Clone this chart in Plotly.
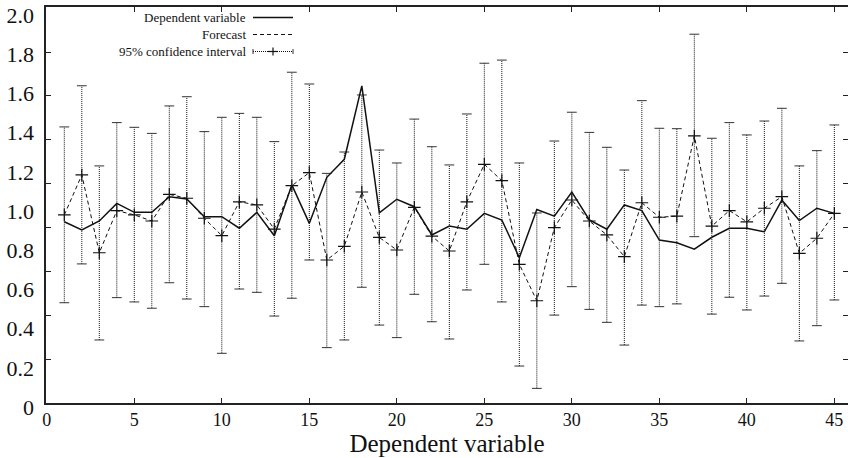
import plotly.graph_objects as go

# ---- data ----
x_idx = list(range(1, 46))

dependent = [0.945, 0.903, 0.949, 1.039, 0.993, 0.993, 1.073, 1.061, 0.971, 0.971,
             0.912, 0.993, 0.874, 1.133, 0.937, 1.172, 1.264, 1.638, 0.991, 1.060,
             1.022, 0.878, 0.923, 0.907, 0.988, 0.954, 0.762, 1.008, 0.974, 1.097,
             0.954, 0.907, 1.031, 1.002, 0.852, 0.838, 0.805, 0.866, 0.912, 0.912,
             0.894, 1.056, 0.951, 1.014, 0.988]

forecast = [0.980, 1.184, 0.787, 1.002, 0.980, 0.949, 1.085, 1.065, 0.963, 0.874,
            1.047, 1.031, 0.908, 1.129, 1.196, 0.750, 0.820, 1.097, 0.865, 0.801,
            1.019, 0.872, 0.796, 1.047, 1.238, 1.155, 0.728, 0.542, 0.915, 1.056,
            0.949, 0.878, 0.767, 1.042, 0.968, 0.974, 1.383, 0.923, 1.002, 0.945,
            1.014, 1.073, 0.784, 0.861, 0.988]

ci_upper = [1.429, 1.639, 1.230, 1.451, 1.427, 1.396, 1.536, 1.583, 1.405, 1.478,
            1.498, 1.478, 1.354, 1.708, 1.648, 1.192, 1.301, 1.592, 1.311, 1.245,
            1.469, 1.328, 1.235, 1.495, 1.754, 1.770, 1.245, 0.990, 1.357, 1.504,
            1.401, 1.325, 1.209, 1.563, 1.422, 1.420, 1.902, 1.371, 1.451, 1.388,
            1.459, 1.524, 1.230, 1.308, 1.439]

ci_lower = [0.532, 0.730, 0.342, 0.558, 0.536, 0.504, 0.634, 0.551, 0.512, 0.274,
            0.602, 0.585, 0.464, 0.555, 0.750, 0.303, 0.342, 0.611, 0.418, 0.354,
            0.575, 0.435, 0.347, 0.597, 0.728, 0.536, 0.209, 0.095, 0.469, 0.614,
            0.498, 0.432, 0.316, 0.520, 0.512, 0.526, 0.869, 0.474, 0.560, 0.495,
            0.566, 0.631, 0.337, 0.415, 0.546]

x_ticks = [0, 5, 10, 15, 20, 25, 30, 35, 40, 45]
y_label_vals = [0, 0.2, 0.4, 0.6, 0.8, 1.0, 1.2, 1.4, 1.6, 1.8, 2.0]
y_label_text = ["0", "0.2", "0.4", "0.6", "0.8", "1.0", "1.2", "1.4", "1.6", "1.8", "2.0"]
y_mark_vals = [0, 1, 2, 3, 4, 5, 6, 7, 8]

legend_labels = ["Dependent variable", "Forecast", "95% confidence interval"]
x_title = "Dependent variable"

FONT = "Liberation Serif, Times New Roman, serif"
AX = "#222222"

# ---- build CI segments ----
ci_x, ci_y = [], []
for xi, lo, hi in zip(x_idx, ci_lower, ci_upper):
    ci_x += [xi, xi, None]
    ci_y += [lo, hi, None]

fig = go.Figure()

fig.add_trace(go.Scatter(
    x=ci_x, y=ci_y, mode="lines",
    line=dict(color="#111111", width=1, dash="1px,1px"),
    showlegend=False, hoverinfo="skip"))

fig.add_trace(go.Scatter(
    x=x_idx + x_idx, y=ci_lower + ci_upper, mode="markers",
    marker=dict(symbol="line-ew", size=7, color="#333333",
                line=dict(color="#333333", width=1)),
    showlegend=False, hoverinfo="skip"))

fig.add_trace(go.Scatter(
    x=x_idx, y=forecast, mode="lines+markers",
    line=dict(color="#111111", width=1, dash="4px,3px"),
    marker=dict(symbol="cross-thin", size=9, color="#111111",
                line=dict(color="#111111", width=1.2)),
    showlegend=False, hoverinfo="skip"))

fig.add_trace(go.Scatter(
    x=x_idx, y=dependent, mode="lines",
    line=dict(color="#111111", width=1.5),
    showlegend=False, hoverinfo="skip"))

# empty traces so the overlay axes are drawn
fig.add_trace(go.Scatter(x=[], y=[], yaxis="y2", showlegend=False, hoverinfo="skip"))
fig.add_trace(go.Scatter(x=[], y=[], yaxis="y3", showlegend=False, hoverinfo="skip"))

# ---- legend drawn gnuplot-style (text left of sample) ----
L, R, T, B = 46, 848, 7, 403
W, H = R - L, B - T
PX_PER_UNIT = 196.0

def px(xp):
    return (xp - L) / W

def py(yp):
    return (B - yp) / H

rows = [17.5, 34.5, 51.5]
for lab, ry in zip(legend_labels, rows):
    fig.add_annotation(text=lab, x=px(248), y=py(ry), xref="paper", yref="paper",
                       xanchor="right", yanchor="middle", showarrow=False,
                       font=dict(family=FONT, size=13, color="#111111"))

shapes = []
shapes.append(dict(type="line", xref="paper", yref="paper", x0=px(253), x1=px(293),
                   y0=py(rows[0]), y1=py(rows[0]), line=dict(color="#111111", width=1.3)))
shapes.append(dict(type="line", xref="paper", yref="paper", x0=px(253), x1=px(293),
                   y0=py(rows[1]), y1=py(rows[1]), line=dict(color="#111111", width=1, dash="4px,3px")))
shapes.append(dict(type="line", xref="paper", yref="paper", x0=px(253), x1=px(293),
                   y0=py(rows[2]), y1=py(rows[2]), line=dict(color="#111111", width=1, dash="1px,1px")))
shapes.append(dict(type="line", xref="paper", yref="paper", x0=px(268), x1=px(278),
                   y0=py(rows[2]), y1=py(rows[2]), line=dict(color="#111111", width=1.2)))
shapes.append(dict(type="line", xref="paper", yref="paper", x0=px(273), x1=px(273),
                   y0=py(rows[2] - 4), y1=py(rows[2] + 4), line=dict(color="#111111", width=1.2)))
for ex in (253, 293):
    shapes.append(dict(type="line", xref="paper", yref="paper", x0=px(ex), x1=px(ex),
                       y0=py(rows[2] - 2.5), y1=py(rows[2] + 2.5), line=dict(color="#333333", width=1)))

# data axis: value 0 sits 4 px below the plotting area (as the reference labels show)
y_lo = 4 / PX_PER_UNIT
y_hi = y_lo + H / PX_PER_UNIT

fig.update_layout(
    width=848, height=458,
    margin=dict(l=L, r=848 - R, t=T, b=458 - B, autoexpand=False),
    paper_bgcolor="white", plot_bgcolor="white",
    showlegend=False,
    shapes=shapes,
    font=dict(family=FONT, color="#111111"),
    xaxis=dict(
        automargin=False,
        range=[-0.046, 45.78],
        tickvals=x_ticks, ticktext=[str(v) for v in x_ticks],
        ticks="inside", ticklen=5, tickwidth=1, tickcolor=AX,
        showline=True, linecolor=AX, linewidth=1.5, mirror="ticks",
        showgrid=False, zeroline=False,
        tickfont=dict(family=FONT, size=18, color="#111111"),
        title=dict(text=x_title, font=dict(family=FONT, size=25, color="#111111"), standoff=2),
    ),
    yaxis=dict(
        automargin=False,
        range=[y_lo, y_hi],
        showticklabels=False, ticks="", showline=False, showgrid=False, zeroline=False,
    ),
    yaxis2=dict(
        automargin=False,
        overlaying="y", side="left", anchor="x",
        range=[0, H / 43.875],
        tickvals=y_mark_vals, showticklabels=False,
        ticks="inside", ticklen=5, tickwidth=1, tickcolor=AX,
        showline=True, linecolor=AX, linewidth=1.5, mirror="ticks",
        showgrid=False, zeroline=False,
    ),
    yaxis3=dict(
        automargin=False,
        overlaying="y", side="left", anchor="x",
        range=[0, H / PX_PER_UNIT],
        tickvals=y_label_vals, ticktext=y_label_text,
        ticks="", showline=False, showgrid=False, zeroline=False,
        tickfont=dict(family=FONT, size=22, color="#111111"),
        ticklabelstandoff=11, ticklabelshift=4, ticklabeloverflow="allow",
    ),
)

fig.write_html("out.html")
